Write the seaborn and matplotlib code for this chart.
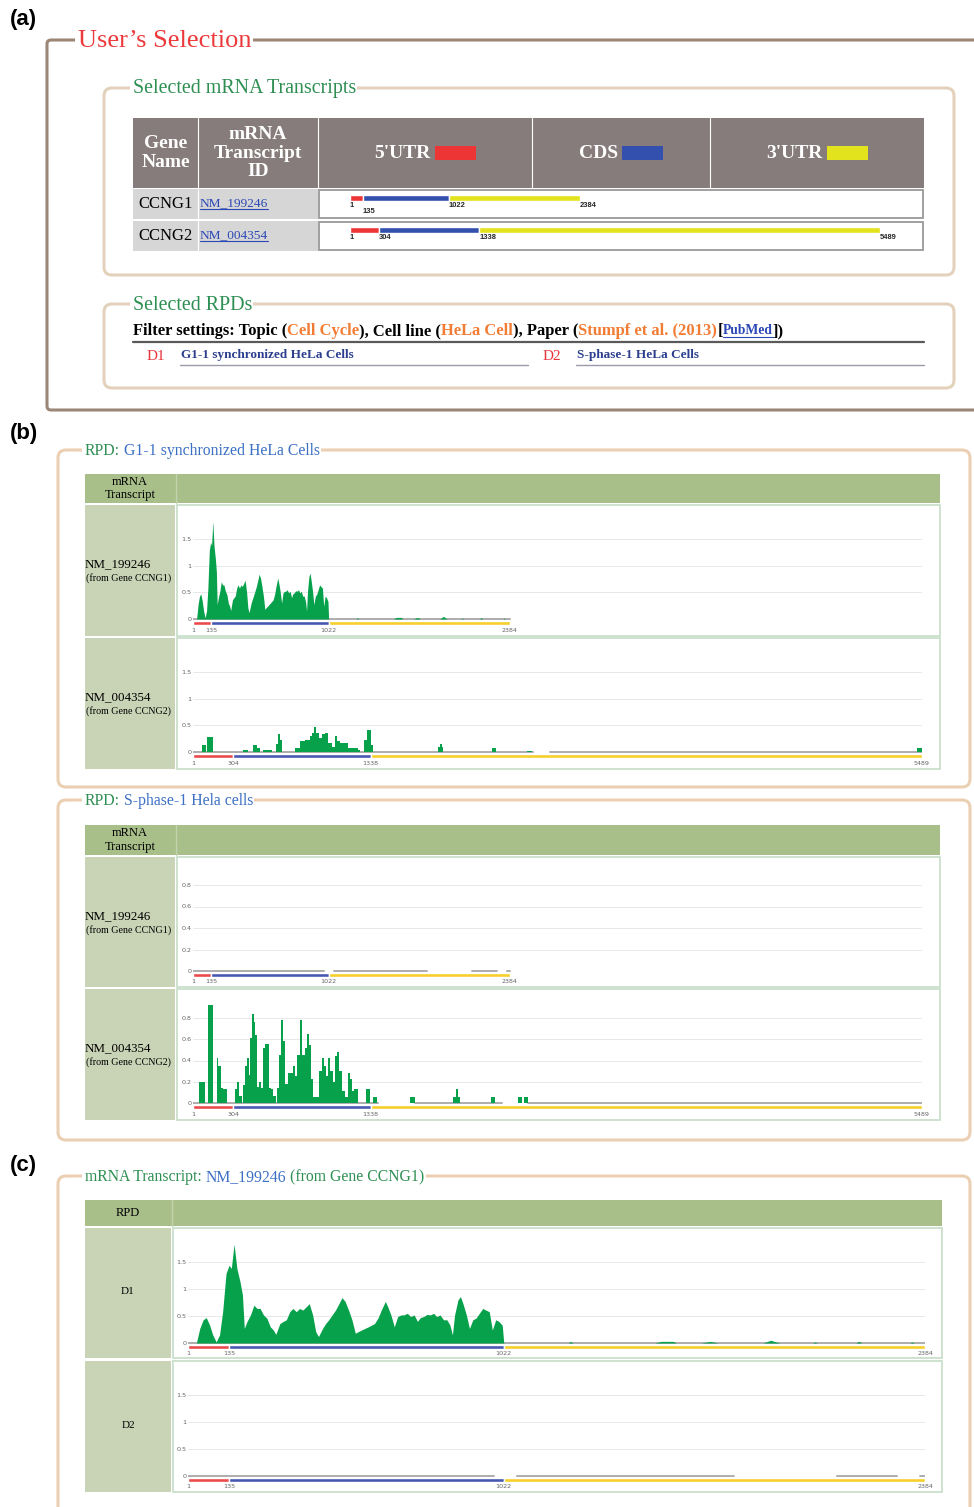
import matplotlib
matplotlib.use("Agg")
import matplotlib.pyplot as plt
import numpy as np
import pandas as pd
import seaborn as sns
from matplotlib.patches import Rectangle, FancyBboxPatch

# ---- values ----
genes = ["CCNG1", "CCNG2"]
transcripts = ["NM_199246", "NM_004354"]
utr5_end = [135, 304]
cds_end = [1022, 1338]
tx_length = [2384, 5489]
rpd_ids = ["D1", "D2"]
rpd_names = ["G1-1 synchronized HeLa Cells", "S-phase-1 HeLa Cells"]
rpd_titles = ["G1-1 synchronized HeLa Cells", "S-phase-1 Hela cells"]

# D1 (G1) read density on NM_199246
d1_nm199246_pos = [
    28, 39, 50, 60, 71, 81, 92, 103, 113, 124,
    134, 141, 150, 159, 169, 177, 183, 192, 203, 214,
    224, 234, 245, 256, 267, 277, 285, 298, 309, 319,
    330, 340, 351, 362, 372, 383, 393, 404, 414, 423,
    436, 446, 456, 467, 478, 489, 499, 509, 520, 531,
    542, 551, 562, 573, 584, 594, 604, 615, 626, 639,
    647, 657, 668, 679, 690, 699, 710, 721, 732, 743,
    752, 763, 774, 785, 795, 805, 816, 827, 838, 848,
    856, 863, 874, 882, 890, 901, 911, 922, 932, 943,
    954, 964, 975, 985, 996, 1006, 1017, 1022,
    1230, 1238, 1246, 1510, 1530, 1570, 1580, 1660, 1690, 1715,
    1860, 1885, 1915, 2020, 2028, 2036, 2160, 2170, 2180, 2335,
    2342, 2350,
]
d1_nm199246_val = [
    0.00, 0.27, 0.43, 0.47, 0.33, 0.15, 0.02, 0.15, 0.58, 1.29,
    1.44, 1.38, 1.83, 1.38, 1.14, 0.89, 0.27, 0.40, 0.52, 0.70,
    0.64, 0.64, 0.52, 0.46, 0.30, 0.24, 0.16, 0.36, 0.40, 0.43,
    0.58, 0.64, 0.58, 0.64, 0.61, 0.67, 0.73, 0.52, 0.21, 0.12,
    0.27, 0.36, 0.43, 0.52, 0.61, 0.73, 0.84, 0.77, 0.61, 0.43,
    0.18, 0.21, 0.24, 0.27, 0.30, 0.33, 0.36, 0.46, 0.61, 0.77,
    0.67, 0.52, 0.30, 0.49, 0.52, 0.52, 0.55, 0.49, 0.52, 0.40,
    0.47, 0.49, 0.53, 0.52, 0.55, 0.49, 0.52, 0.43, 0.43, 0.33,
    0.15, 0.52, 0.80, 0.86, 0.73, 0.52, 0.27, 0.43, 0.46, 0.55,
    0.64, 0.61, 0.58, 0.24, 0.43, 0.40, 0.33, 0.00,
    0.00, 0.03, 0.00, 0.00, 0.03, 0.03, 0.00, 0.00, 0.03, 0.00,
    0.00, 0.05, 0.00, 0.00, 0.02, 0.00, 0.00, 0.03, 0.00, 0.00,
    0.02, 0.00,
]

# D1 (G1) read density on NM_004354 (binned)
d1_nm004354_pos = [
    1, 66, 99, 109, 149, 380, 417, 455, 480, 505,
    530, 593, 626, 640, 655, 668, 769, 806, 844, 882,
    894, 912, 928, 950, 970, 995, 1020, 1045, 1068, 1085,
    1110, 1165, 1240, 1258, 1285, 1310, 1340, 1353, 1848, 1860,
    1872, 1885, 2249, 2282, 2513, 2550, 5455, 5489,
]
d1_nm004354_val = [
    0, 0.13, 0, 0.28, 0, 0.04, 0, 0.13, 0.07, 0,
    0.04, 0, 0.15, 0.33, 0.22, 0, 0.07, 0.20, 0.23, 0.30,
    0.36, 0.47, 0.36, 0.26, 0.33, 0.36, 0.17, 0.10, 0.30, 0.20,
    0.17, 0.07, 0.04, 0, 0.23, 0.42, 0.13, 0, 0.10, 0.15,
    0.10, 0, 0.08, 0, 0.02, 0, 0.08, 0,
]

# D2 (S-phase) read density on NM_004354 (binned)
d2_nm004354_pos = [
    1, 49, 91, 116, 149, 179, 192, 209, 229, 259,
    317, 335, 350, 367, 380, 392, 405, 420, 430, 445,
    458, 470, 485, 500, 515, 530, 545, 570, 590, 606,
    626, 636, 651, 666, 681, 696, 716, 756, 771, 786,
    806, 824, 841, 856, 871, 887, 902, 952, 972, 987,
    1002, 1017, 1032, 1052, 1072, 1087, 1102, 1122, 1142, 1168,
    1185, 1198, 1215, 1245, 1303, 1333, 1358, 1388, 1634, 1672,
    1960, 1981, 1993, 2011, 2241, 2274, 2445, 2475, 2495, 2525,
]
d2_nm004354_val = [
    0, 0.20, 0, 0.92, 0, 0.42, 0.35, 0.14, 0.13, 0,
    0.13, 0.20, 0.07, 0, 0.17, 0.35, 0.42, 0.26, 0.61, 0.84,
    0.76, 0.64, 0.15, 0.20, 0.14, 0.52, 0.56, 0.14, 0.13, 0.07,
    0, 0.14, 0.45, 0.78, 0.58, 0.18, 0.28, 0.35, 0.25, 0.45,
    0.78, 0.45, 0.52, 0.65, 0.55, 0.23, 0.06, 0.30, 0.42, 0.35,
    0.25, 0.42, 0.30, 0.20, 0.44, 0.48, 0.30, 0.11, 0.06, 0.28,
    0.23, 0.11, 0.13, 0, 0.13, 0, 0.06, 0, 0.06, 0,
    0.06, 0.13, 0.06, 0, 0.06, 0, 0.06, 0, 0.06, 0,
]

# stretches drawn as a grey zero line (start, end)
d1_nm199246_cov = [(1, 2384)]
d1_nm004354_cov = [(1, 2561), (2688, 5489)]
d2_nm199246_cov = [(1, 990), (1065, 1766), (2099, 2293), (2367, 2384)]
d2_nm004354_cov = [(1, 1390), (1672, 2330), (2525, 5489)]

# ---- styling ----
W, H = 974, 1507
sns.set_theme(style="white")
SERIF = ["Liberation Serif", "DejaVu Serif"]
SANS = ["Liberation Sans", "DejaVu Sans"]
plt.rcParams["font.family"] = SERIF

C_RED, C_BLUE, C_YEL = "#ee3535", "#3450ae", "#e3e31d"
B_RED, B_BLUE, B_YEL = "#ea4a4c", "#4858b2", "#f7cf2a"
FILL = "#07a04b"
TGREEN = "#2e8f52"
TBLUE = "#3c70c4"
LINK = "#2a47b5"
ORANGE = "#f27c34"
TAN = "#ebcfb3"

fig = plt.figure(figsize=(W / 100, H / 100), dpi=100)
bg = fig.add_axes([0, 0, 1, 1])
bg.set_xlim(0, W)
bg.set_ylim(H, 0)
bg.axis("off")
rend = fig.canvas.get_renderer()


def rect(x0, y0, x1, y1, fc, ec="none", lw=0, z=1):
    bg.add_patch(Rectangle((x0, y0), x1 - x0, y1 - y0, facecolor=fc,
                           edgecolor=ec, linewidth=lw, zorder=z))


def txt(x, y, s, size, color="black", weight="normal", ha="left", family=None, z=6, **kw):
    return bg.text(x, y, s, fontsize=size, color=color, fontweight=weight, ha=ha,
                   va="center", family=family or SERIF, zorder=z, **kw)


def width(t):
    return t.get_window_extent(rend).width


def runs(x, y, pieces, size, weight="normal", z=6):
    # pieces: (text, colour, gap after, underline, own size)
    x0 = x
    for s, c, gap, ul, sz in pieces:
        t = txt(x, y, s, sz or size, c, weight, z=z)
        w = width(t)
        if ul:
            bg.plot([x, x + w], [y + 6, y + 6], color=c, lw=0.8, zorder=z)
        x += w + gap
    return x0, x


def fieldset(x0, y0, x1, y1, color, lw, pieces, tx, size, r=8):
    bg.add_patch(FancyBboxPatch((x0, y0), x1 - x0, y1 - y0,
                                boxstyle=f"round,pad=0,rounding_size={r}",
                                facecolor="none", edgecolor=color, linewidth=lw, zorder=2))
    a, b = runs(tx, y0 + 1, pieces, size)
    rect(a - 3, y0 - 7, b + 1, y0 + 7, "white", z=3)


def profile(x0, x1, zero_y, unit, top_y, bot_y, xmax, ticks, t,
            pos=None, val=None, step=False, cov=()):
    ax = fig.add_axes([x0 / W, 1 - bot_y / H, (x1 - x0) / W, (bot_y - top_y) / H])
    ax.patch.set_alpha(0)
    for v in ticks[1:]:
        ax.axhline(v, color="#e8e8e8", lw=0.7, zorder=1)
    if cov:
        seg = pd.DataFrame([(k, p) for k, s in enumerate(cov) for p in s], columns=["seg", "pos"])
        seg["val"] = 0.0
        sns.lineplot(data=seg, x="pos", y="val", units="seg", estimator=None,
                     color="#adadad", linewidth=1.4, ax=ax, zorder=2)
    if pos is not None:
        ax.fill_between(pos, 0, val, step="post" if step else None,
                        color=FILL, linewidth=0, zorder=3)
    starts = [1, utr5_end[t], cds_end[t]]
    ends = [utr5_end[t], cds_end[t], tx_length[t]]
    ax.barh([-3.6 / unit] * 3, np.subtract(ends, starts), left=starts,
            height=3.8 / unit, color=[B_RED, B_BLUE, B_YEL], zorder=4)
    ax.set_xlim(1, xmax)
    ax.set_ylim(-(bot_y - zero_y) / unit, (zero_y - top_y) / unit)
    ax.set_yticks(ticks, [f"{v:g}" for v in ticks])
    marks = [1, utr5_end[t], cds_end[t], tx_length[t]]
    ax.set_xticks(marks, [str(m) for m in marks])
    ax.tick_params(length=0, pad=1.2, labelsize=4.6, labelcolor="#666666",
                   labelfontfamily="DejaVu Sans")
    ax.set_xlabel("")
    ax.set_ylabel("")
    sns.despine(ax=ax, left=True, bottom=True)
    return ax


def rpd_table(x0, xs, x1, hdr, rows, head):
    rect(x0, hdr[0], x1, hdr[1], "#a9bf8a", z=4)
    bg.plot([xs + 1, xs + 1], hdr, color="#c3d3ad", lw=1, zorder=5)
    txt((x0 + xs) / 2, (hdr[0] + hdr[1]) / 2, head, 9, ha="center", linespacing=1.15)
    for y0, y1 in rows:
        rect(x0, y0, xs, y1, "#c9d3b6", z=4)
        rect(xs + 2, y0, x1, y1, "white", ec="#cadfca", lw=1.3, z=4)


# ================= (a) =================
txt(10, 20, "(a)", 16, weight="bold", family=SANS)
fieldset(47, 40, 1010, 410, "#9c8777", 2.2,
         [("User\u2019s Selection", "#ec3a3c", 0, False, None)], 78, 19, r=4)
fieldset(104, 88, 954, 275, "#e4d1bb", 2.2,
         [("Selected mRNA Transcripts", TGREEN, 0, False, None)], 133, 14.4)
fieldset(104, 304, 954, 388, "#e4d1bb", 2.2,
         [("Selected RPDs", TGREEN, 0, False, None)], 133, 14.4)

col_x = [133, 198, 318, 532, 710, 924]
rect(133, 118, 924, 188, "#877c7c", z=4)
for x in col_x[1:-1]:
    bg.plot([x, x], [118, 188], color="white", lw=0.8, zorder=5)
txt(166, 153, "Gene\nName", 14, "white", "bold", ha="center", linespacing=1.15)
txt(258, 153, "mRNA\nTranscript\nID", 14, "white", "bold", ha="center", linespacing=1.08)
for i, (lab, col) in enumerate(zip(["5'UTR", "CDS", "3'UTR"], [C_RED, C_BLUE, C_YEL])):
    cx = (col_x[i + 2] + col_x[i + 3]) / 2
    t = txt(0, 153, lab, 14, "white", "bold")
    w = width(t)
    total = w + 4 + 41
    t.set_x(cx - total / 2)
    rect(cx - total / 2 + w + 4, 146, cx + total / 2, 160, col, z=6)

row_y = [(189, 219), (221, 251)]
for r in range(2):
    y0, y1 = row_y[r]
    rect(133, y0, 318, y1, "#d6d6d6", z=4)
    bg.plot([198, 198], [y0, y1], color="white", lw=0.8, zorder=5)
    rect(319, y0 + 1, 923, y1 - 1, "white", ec="#999999", lw=1.3, z=4)
    yc = (y0 + y1) / 2
    txt(138, yc, genes[r], 12)
    runs(200, yc - 1, [(transcripts[r], LINK, 0, True, None)], 9.6)
    ax = fig.add_axes([350 / W, 1 - y1 / H, 530 / W, (y1 - y0) / H])
    ax.set_xlim(1, max(tx_length))
    ax.set_ylim(y1, y0)
    ax.axis("off")
    starts = [1, utr5_end[r], cds_end[r]]
    ends = [utr5_end[r], cds_end[r], tx_length[r]]
    ax.barh([y0 + 9] * 3, np.subtract(ends, starts), left=starts, height=5.5,
            color=[C_RED, C_BLUE, C_YEL])
    marks = [1, utr5_end[r], cds_end[r], tx_length[r]]
    for k, p in enumerate(marks):
        near = k == 1 and (p - 1) * 530 / max(tx_length) < 18
        ax.text(p, y0 + 16.5 + (6 if near else 0), str(p), fontsize=5.4, fontweight="bold",
                family=SANS, ha="left", va="center", clip_on=False)

runs(133, 331, [("Filter settings: Topic (", "black", 0, False, None),
                ("Cell Cycle", ORANGE, 0, False, None),
                ("), Cell line (", "black", 0, False, None),
                ("HeLa Cell", ORANGE, 0, False, None),
                ("), Paper (", "black", 0, False, None),
                ("Stumpf et al. (2013)", ORANGE, 0, False, None),
                ("[", "black", 0, False, None),
                ("PubMed", LINK, 0, True, 9.8),
                ("])", "black", 0, False, None)], 11.9, "bold")
bg.plot([133, 924], [342, 342], color="#5a5a5a", lw=1.6, zorder=5)
for i, (xi, xn, xe) in enumerate([(147, 181, 528), (543, 577, 924)]):
    txt(xi, 356, rpd_ids[i], 11, "#e8343a")
    txt(xn, 355, rpd_names[i], 9.5, "#2c3f8f", "bold")
    bg.plot([xn - 1, xe], [365, 365], color="#9a9aa8", lw=1, zorder=5)

# ================= (b) =================
txt(10, 433, "(b)", 16, weight="bold", family=SANS)
blocks = [
    (450, 787, 474, 503, [(505, 636), (638, 769)], 0,
     [(619, 53.3, 512, 626, [0, 0.5, 1, 1.5]), (752, 53.3, 645, 759, [0, 0.5, 1, 1.5])],
     [(d1_nm199246_pos, d1_nm199246_val, False, d1_nm199246_cov),
      (d1_nm004354_pos, d1_nm004354_val, True, d1_nm004354_cov)]),
    (800, 1140, 825, 855, [(857, 987), (989, 1120)], 1,
     [(971, 107.5, 862, 977, [0, 0.2, 0.4, 0.6, 0.8]),
      (1103, 106.25, 995, 1110, [0, 0.2, 0.4, 0.6, 0.8])],
     [(None, None, False, d2_nm199246_cov),
      (d2_nm004354_pos, d2_nm004354_val, True, d2_nm004354_cov)]),
]
for fy0, fy1, hy0, hy1, rows, d, geo, data in blocks:
    fieldset(58, fy0, 970, fy1, TAN, 2.2,
             [("RPD:", TGREEN, 4, False, None), (rpd_titles[d], TBLUE, 0, False, None)], 85, 11.3)
    rpd_table(85, 175, 940, (hy0, hy1), rows, "mRNA\nTranscript")
    for t, ((y0, y1), (zy, un, ty, by, tk), (p, v, st, cv)) in enumerate(zip(rows, geo, data)):
        txt(85, y0 + 59, transcripts[t], 9.4)
        txt(86, y0 + 73, f"(from Gene {genes[t]})", 7.2)
        profile(193, 922, zy, un, ty, by, max(tx_length), tk, t, p, v, st, cv)

# ================= (c) =================
txt(10, 1165, "(c)", 16, weight="bold", family=SANS)
fieldset(58, 1176, 970, 1560, TAN, 2.2,
         [("mRNA Transcript:", TGREEN, 4, False, None), (transcripts[0], TBLUE, 4, False, None),
          (f"(from Gene {genes[0]})", TGREEN, 0, False, None)], 85, 11.3)
c_rows = [(1228, 1358), (1361, 1492)]
rpd_table(85, 171, 942, (1200, 1226), c_rows, "RPD")
c_geo = [(1343, 54, 1234, 1349), (1476, 54, 1367, 1482)]
c_data = [(d1_nm199246_pos, d1_nm199246_val, d1_nm199246_cov), (None, None, d2_nm199246_cov)]
for k, ((y0, y1), (zy, un, ty, by), (p, v, cv)) in enumerate(zip(c_rows, c_geo, c_data)):
    txt(128, (y0 + y1) / 2 - 1, rpd_ids[k], 8, ha="center")
    profile(188, 925, zy, un, ty, by, tx_length[0], [0, 0.5, 1, 1.5], 0, p, v, False, cv)

fig.savefig("out.png", dpi=100)
